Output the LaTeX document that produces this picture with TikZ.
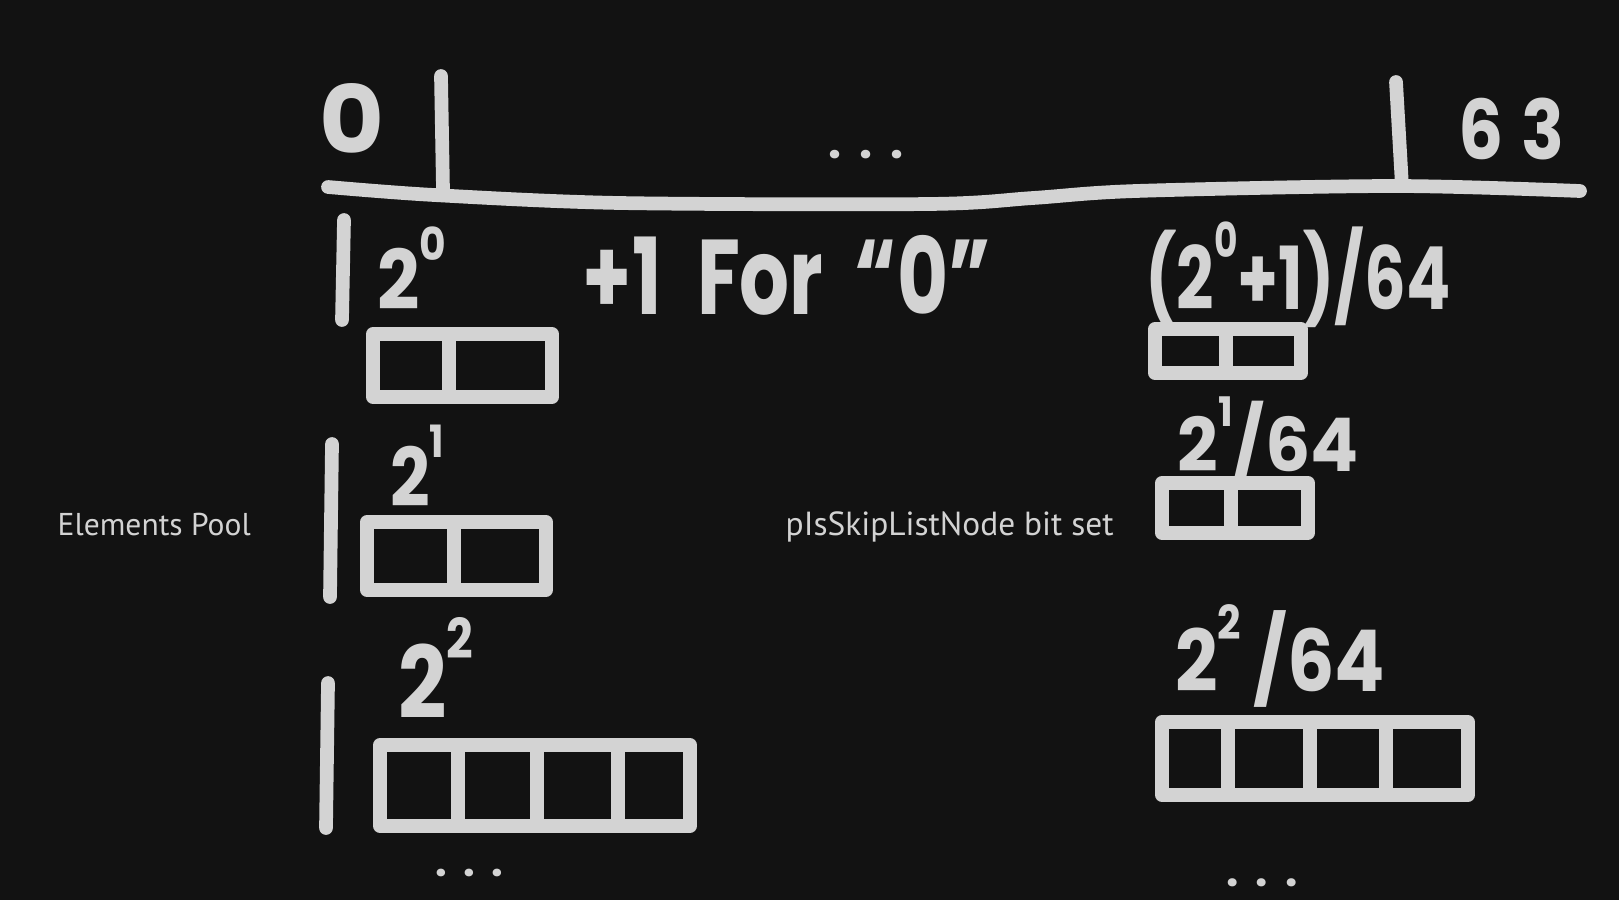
\documentclass[tikz,border=0pt]{standalone}
\usepackage{fontspec}
\usepackage{graphicx}
\setmainfont{Poppins}
\newfontfamily\lblfont{PT Sans}
\definecolor{bg}{HTML}{121212}
\definecolor{ink}{HTML}{D3D3D3}
\newlength\pxu
\setlength\pxu{0.01cm}
\newcommand\fitwh[3]{\resizebox*{#1\pxu}{#2\pxu}{#3}}
\newcommand\fitw[2]{\resizebox{#1\pxu}{!}{#2}}
\newcommand\ex[1]{\raisebox{0.6em}{\scalebox{0.55}{#1}}}
\newcommand\threedots{.\hspace{0.4em}.\hspace{0.4em}.}
\begin{document}
\begin{tikzpicture}[x=0.01cm,y=-0.01cm,
  stroke/.style={draw=ink,line width=3.9pt,line cap=round,line join=round},
  hand/.style={text=ink,inner sep=0pt,font=\bfseries},
  lbl/.style={text=ink,inner sep=0pt,font=\lblfont}]
\fill[bg] (0,0) rectangle (1619,900);
\useasboundingbox (0,0) rectangle (1619,900);

% axis line and ticks
\draw[stroke] plot[smooth] coordinates {(328,187) (434,195) (620,203) (929,204) (1033,198) (1136,191) (1394,186) (1580,191)};
\draw[stroke] (441,76) -- (443,190);
\draw[stroke] (1396,82) -- (1402,186);

% vertical bars
\draw[stroke] (344,220) -- (342,320);
\draw[stroke] (332,444) -- (330,597);
\draw[stroke] (328,683) -- (326,828);

% left boxes
\draw[stroke] (373,334) rectangle (552,397);
\draw[stroke] (449,334) -- (449,397);
\draw[stroke] (367,522) rectangle (546,590);
\draw[stroke] (454,522) -- (454,590);
\draw[stroke] (380,745) rectangle (690,826);
\draw[stroke] (458,745) -- (458,826);
\draw[stroke] (537,745) -- (537,826);
\draw[stroke] (618,745) -- (618,826);

% right boxes
\draw[stroke] (1155,329) rectangle (1301,373);
\draw[stroke] (1226,329) -- (1226,373);
\draw[stroke] (1162,483) rectangle (1308,533);
\draw[stroke] (1231,483) -- (1231,533);
\draw[stroke] (1162,722) rectangle (1468,795);
\draw[stroke] (1228,722) -- (1228,795);
\draw[stroke] (1310,722) -- (1310,795);
\draw[stroke] (1386,722) -- (1386,795);

% texts
\node[hand] (zero) at (352,118) {\fitwh{65}{70}{0}};
\node[hand] (sixtythree) at (1511,129) {\fitwh{106}{62}{6\hspace{0.25em}3}};
\node[hand] (dotsTop) at (866,155) {\fitw{76}{\threedots}};
\node[hand] (p0) at (412,268) {\fitwh{69}{83}{2\ex{0}}};
\node[hand] (plusone) at (787,275) {\fitwh{408}{80}{+1\hspace{0.45em}For\hspace{0.4em}“0”}};
\node[hand] (r0) at (1298,275) {\fitwh{305}{106}{(2\ex{0}+1)/64}};
\node[hand] (p1) at (417,466) {\fitwh{54}{81}{2\ex{1}}};
\node[hand] (r1) at (1268,441) {\fitwh{181}{88}{2\ex{1}/64}};
\node[hand] (p2) at (436,668) {\fitwh{75}{101}{2\ex{2}}};
\node[hand] (r2) at (1280,656) {\fitwh{210}{102}{2\ex{2}\,/64}};
\node[hand] (dotsL) at (469,873) {\fitw{68}{\threedots}};
\node[hand] (dotsR) at (1262,883) {\fitw{72}{\threedots}};
\node[lbl,anchor=base west] (pool) at (57,535) {\fitw{193}{Elements Pool}};
\node[lbl,anchor=base west] (bits) at (785,535) {\fitw{328}{pIsSkipListNode bit set}};
\end{tikzpicture}
\end{document}
